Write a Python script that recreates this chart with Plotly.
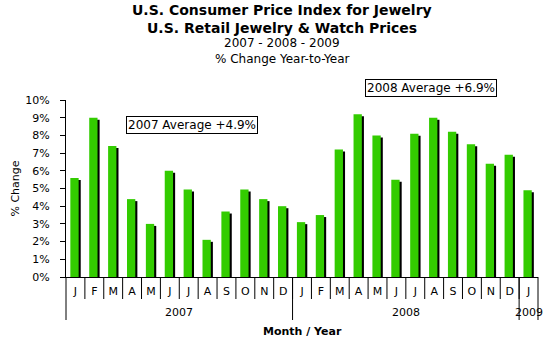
import plotly.graph_objects as go

# ---- data ----
months = ["J", "F", "M", "A", "M", "J", "J", "A", "S", "O", "N", "D",
          "J", "F", "M", "A", "M", "J", "J", "A", "S", "O", "N", "D",
          "J"]
years = ["2007", "2008", "2009"]
year_counts = [12, 12, 1]
pct_change = [5.6, 9.0, 7.4, 4.4, 3.0, 6.0, 4.95, 2.1, 3.7, 4.95, 4.4, 4.0,
              3.1, 3.5, 7.2, 9.2, 8.0, 5.5, 8.1, 9.0, 8.2, 7.5, 6.4, 6.9,
              4.9]
y_ticks = list(range(0, 11))
y_ticktext = [f"{v}%" for v in y_ticks]
avg_labels = ["2007 Average +4.9%", "2008 Average +6.9%"]
title_lines = ["U.S. Consumer Price Index for Jewelry",
               "U.S. Retail Jewelry & Watch Prices",
               "2007 - 2008 - 2009",
               "% Change Year-to-Year"]

FONT = "DejaVu Sans"
GREEN = "rgb(51,204,0)"
x = list(range(len(pct_change)))

fig = go.Figure()
# drop shadow
fig.add_trace(go.Bar(x=x, y=pct_change, base=-0.113, offset=-0.16, width=0.44,
                     marker=dict(color="black", line=dict(width=0)),
                     hoverinfo="skip", showlegend=False))
# green bars
fig.add_trace(go.Bar(x=x, y=pct_change, offset=-0.27, width=0.44,
                     marker=dict(color=GREEN, line=dict(width=0)),
                     showlegend=False))

shapes = []
# month dividers
for i in range(len(months) - 1):
    shapes.append(dict(type="line", xref="x", yref="paper", ysizemode="pixel",
                       yanchor=0, x0=i + 0.5, x1=i + 0.5, y0=0, y1=-22,
                       line=dict(color="black", width=1)))
# year dividers
start = 0
bounds = []
for c in year_counts[:-1]:
    start += c
    bounds.append(start - 0.5)
for b in bounds:
    shapes.append(dict(type="line", xref="x", yref="paper", ysizemode="pixel",
                       yanchor=0, x0=b, x1=b, y0=0, y1=-43,
                       line=dict(color="black", width=1)))
for xd in [0, 1]:
    shapes.append(dict(type="line", xref="x domain", yref="paper", ysizemode="pixel",
                       yanchor=0, x0=xd, x1=xd, y0=0, y1=-43,
                       line=dict(color="black", width=1)))

annotations = []
# year labels
start = 0
for yr, c in zip(years, year_counts):
    annotations.append(dict(x=start + (c - 1) / 2, xref="x", xanchor="center",
                            y=0, yref="paper", yanchor="middle",
                            yshift=-35.5, text=yr, showarrow=False,
                            font=dict(family=FONT, size=11, color="black")))
    start += c

# titles
title_px = [10, 28, 43, 59]
title_fmt = [(14, True), (14, True), (12, False), (12, False)]
for t, p, (sz, bold) in zip(title_lines, title_px, title_fmt):
    annotations.append(dict(x=0.4586, xref="paper", xanchor="center",
                            y=1, yref="paper", yshift=100 - p, yanchor="middle",
                            text=f"<b>{t}</b>" if bold else t, showarrow=False,
                            font=dict(family=FONT, size=sz, color="black")))

# average boxes
for t, ax_, ay_ in zip(avg_labels, [0.2677, 0.7735], [0.859, 1.068]):
    annotations.append(dict(x=ax_, xref="paper", xanchor="center",
                            y=ay_, yref="paper", yanchor="middle",
                            text=t, showarrow=False, bgcolor="white",
                            bordercolor="black", borderwidth=1, borderpad=1,
                            font=dict(family=FONT, size=12, color="black")))

# x axis title
annotations.append(dict(x=0.5, xref="paper", xanchor="center",
                        y=0, yref="paper", yanchor="middle", yshift=-54,
                        text="<b>Month / Year</b>", showarrow=False,
                        font=dict(family=FONT, size=11, color="black")))

fig.update_layout(
    width=551, height=340,
    margin=dict(l=66, r=13, t=100, b=63, autoexpand=False),
    paper_bgcolor="white", plot_bgcolor="white",
    barmode="overlay",
    font=dict(family=FONT, size=11, color="black"),
    shapes=shapes, annotations=annotations,
    xaxis=dict(range=[-0.5, len(months) - 0.5], tickmode="array",
               tickvals=x, ticktext=months, ticks="outside",
               ticklen=4, tickcolor="rgba(0,0,0,0)",
               showline=True, linecolor="black", linewidth=1,
               showgrid=False, zeroline=False, fixedrange=True,
               tickfont=dict(family=FONT, size=11)),
    yaxis=dict(range=[0, 10], tickmode="array", tickvals=y_ticks,
               ticktext=y_ticktext, ticks="outside", ticklen=5,
               tickcolor="black", showline=True, linecolor="black",
               linewidth=1, showgrid=False, zeroline=False,
               ticklabelstandoff=8,
               tickfont=dict(family=FONT, size=11),
               title=dict(text="% Change", font=dict(family=FONT, size=11),
                          standoff=3)),
)

fig.write_html("out.html")
